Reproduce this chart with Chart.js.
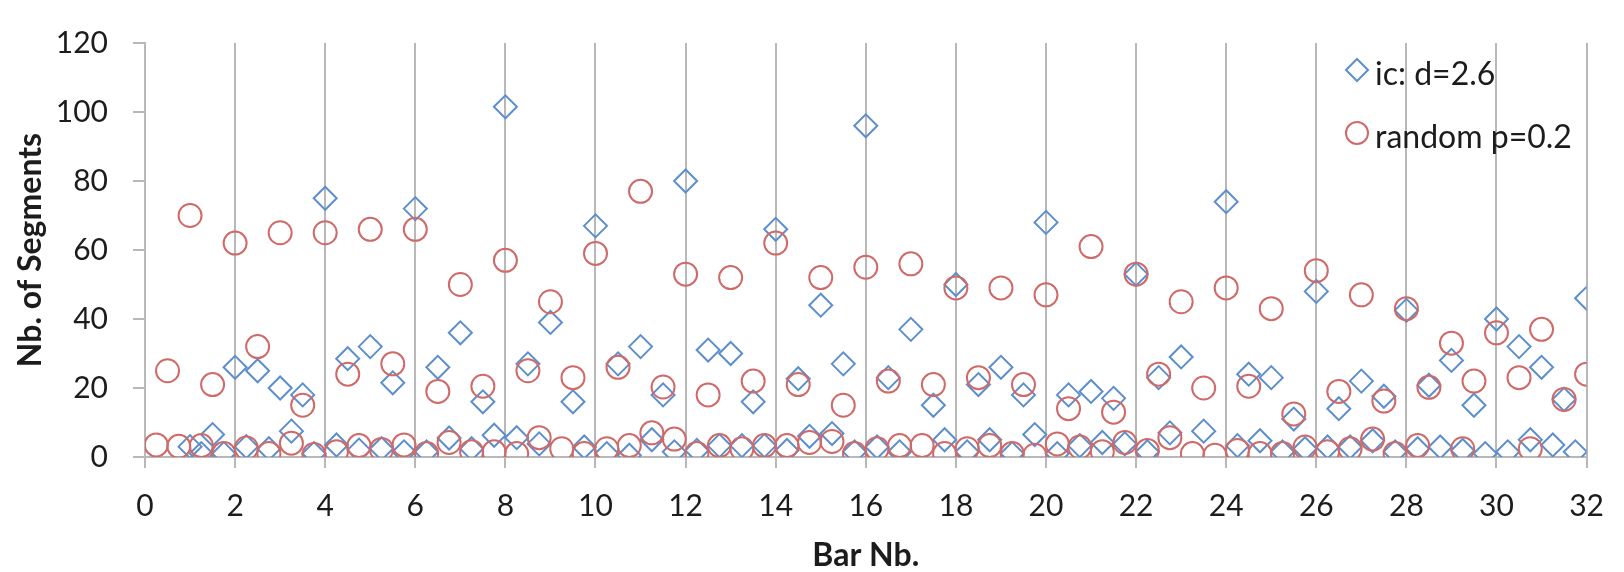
<!DOCTYPE html>
<html>
<head>
<meta charset="utf-8">
<script src="https://cdn.jsdelivr.net/npm/chart.js@4/dist/chart.umd.min.js"></script>
<style>
html,body{margin:0;padding:0;background:#fff;}
canvas{display:block;}
</style>
</head>
<body>
<canvas id="c" width="1624" height="572"></canvas>
<script>
// x positions (bar number, quarter steps)
const positions = [
  0.25,0.5,0.75,1,  1.25,1.5,1.75,2,  2.25,2.5,2.75,3,  3.25,3.5,3.75,4,
  4.25,4.5,4.75,5,  5.25,5.5,5.75,6,  6.25,6.5,6.75,7,  7.25,7.5,7.75,8,
  8.25,8.5,8.75,9,  9.25,9.5,9.75,10, 10.25,10.5,10.75,11, 11.25,11.5,11.75,12,
  12.25,12.5,12.75,13, 13.25,13.5,13.75,14, 14.25,14.5,14.75,15, 15.25,15.5,15.75,16,
  16.25,16.5,16.75,17, 17.25,17.5,17.75,18, 18.25,18.5,18.75,19, 19.25,19.5,19.75,20,
  20.25,20.5,20.75,21, 21.25,21.5,21.75,22, 22.25,22.5,22.75,23, 23.25,23.5,23.75,24,
  24.25,24.5,24.75,25, 25.25,25.5,25.75,26, 26.25,26.5,26.75,27, 27.25,27.5,27.75,28,
  28.25,28.5,28.75,29, 29.25,29.5,29.75,30, 30.25,30.5,30.75,31, 31.25,31.5,31.75,32
];

// series "ic: d=2.6"
const icValues = [
  null,null,null,3,   1,6.5,1,26,     3,25,2.4,20,     7.5,18,1,75,
  3.5,28.5,2,32,      2.4,21.5,1.5,72, 1.5,26,5.5,36,   2.4,16,6.3,101.5,
  5.6,27,3.8,39,      null,16,2.9,67,  1,27,0.5,32,     5,18,1.5,80,
  1.9,31,3.3,30,      3.3,16,3.3,66,   1.9,22.7,6,44,   6.8,27,1.5,96,
  2.9,23,1.5,37,      null,15,5,50,    1.5,21,5,26,     1,18,6.5,68,
  1,18,3.3,19,        4.2,17,3.8,53,   1.5,23,7,29,     null,7.5,null,74,
  3.3,24,4.7,23,      1.5,11,2.4,48,   2.9,14,2.9,22,   4.7,17.6,1.5,42.5,
  2.4,20.8,2.9,28,    1.9,15,1,40,     1.5,32,5,26,     3.5,16.7,1.5,46
];

// series "random p=0.2"
const randomValues = [
  3.5,25,3.1,70,      3.3,21,1,62,     2.6,32,1,65,     4,15,0.7,65,
  1.5,24,3.3,66,      2.2,27,3.5,66,   1,19,4.2,50,     1.5,20.5,1.5,57,
  1,25,5.6,45,        2.4,23,1,59,     2.4,26,3.3,77,   7,20.3,5.2,53,
  1,18,3.3,52,        2.4,22,3.3,62,   3.3,21,4.2,52,   4.5,15,1,55,
  2.4,22,3.3,56,      3.3,21,1,49,     2.4,23,3.3,49,   1,21,0.5,47,
  3.8,14,2.9,61,      1.5,13,4.2,53,   1.9,24,5.6,45,   1,20,0.5,49,
  1.9,20.5,1,43,      1,12.5,2.9,54,   1.5,19,2.4,47,   5.2,16.2,1,43,
  3.3,20.2,null,33,   2.4,22,null,36,  null,23,2.4,37,  null,16.7,null,24
];

const xTickValues = [0,2,4,6,8,10,12,14,16,18,20,22,24,26,28,30,32];
const yTickValues = [0,20,40,60,80,100,120];
const seriesNames = ['ic: d=2.6', 'random p=0.2'];

const BLUE = '#5e8fcd';
const RED = '#cf6a68';
const GRID = '#b8b8b8';
const TEXT = '#1c1c1c';
const FONT = 'Lato';

function toPoints(vals) {
  const pts = [];
  vals.forEach((v, i) => { if (v !== null) pts.push({x: positions[i], y: v}); });
  return pts;
}

const legendPlugin = {
  id: 'customLegend',
  afterDraw(chart) {
    const ctx = chart.ctx;
    const items = [
      {name: seriesNames[0], style: 'rectRot', color: BLUE, my: 70, ty: 85},
      {name: seriesNames[1], style: 'circle', color: RED, my: 133, ty: 148}
    ];
    ctx.save();
    items.forEach(it => {
      ctx.strokeStyle = it.color;
      ctx.fillStyle = 'rgba(0,0,0,0)';
      ctx.lineWidth = 2;
      Chart.helpers.drawPoint(ctx, {pointStyle: it.style, radius: 11, borderWidth: 2, rotation: 0}, 1357, it.my);
      ctx.fillStyle = TEXT;
      ctx.font = '32px ' + FONT;
      ctx.textAlign = 'left';
      ctx.textBaseline = 'alphabetic';
      ctx.fillText(it.name, 1375, it.ty);
    });
    ctx.restore();
  }
};

new Chart(document.getElementById('c'), {
  type: 'scatter',
  data: {
    datasets: [
      {
        label: seriesNames[1],
        data: toPoints(randomValues),
        pointStyle: 'circle',
        pointRadius: 11.5,
        pointHoverRadius: 11.5,
        pointBorderWidth: 2,
        borderColor: RED,
        backgroundColor: 'rgba(0,0,0,0)'
      },
      {
        label: seriesNames[0],
        data: toPoints(icValues),
        pointStyle: 'rectRot',
        pointRadius: 11.5,
        pointHoverRadius: 11.5,
        pointBorderWidth: 2,
        borderColor: BLUE,
        backgroundColor: 'rgba(0,0,0,0)'
      }
    ]
  },
  options: {
    responsive: false,
    animation: false,
    layout: {padding: {left: 0, right: 21, top: 22, bottom: 0}},
    plugins: {legend: {display: false}, tooltip: {enabled: false}},
    scales: {
      x: {
        type: 'linear',
        min: 0, max: 32,
        afterBuildTicks: s => { s.ticks = xTickValues.map(v => ({value: v})); },
        afterFit: s => { s.height = 115; },
        grid: {display: true, drawOnChartArea: true, drawTicks: true, tickLength: 11, color: GRID, lineWidth: 2},
        border: {display: true, color: GRID, width: 2},
        ticks: {color: TEXT, font: {family: FONT, size: 30}, padding: 20, maxRotation: 0, autoSkip: false},
        title: {display: true, text: 'Bar Nb.', color: TEXT, font: {family: FONT, size: 32, weight: 'bold', lineHeight: 1}, padding: {top: 0, bottom: 0}}
      },
      y: {
        type: 'linear',
        min: 0, max: 120,
        afterBuildTicks: s => { s.ticks = yTickValues.map(v => ({value: v})); },
        afterFit: s => { s.width = 145; },
        grid: {display: true, drawOnChartArea: false, drawTicks: true, tickLength: 12, color: GRID, lineWidth: 2},
        border: {display: true, color: GRID, width: 2},
        ticks: {color: TEXT, font: {family: FONT, size: 30}, padding: 25},
        title: {display: true, text: 'Nb. of Segments', color: TEXT, font: {family: FONT, size: 32, weight: 'bold', lineHeight: 1.2}, padding: {top: 11, bottom: 0}}
      }
    }
  },
  plugins: [legendPlugin]
});
</script>
</body>
</html>
